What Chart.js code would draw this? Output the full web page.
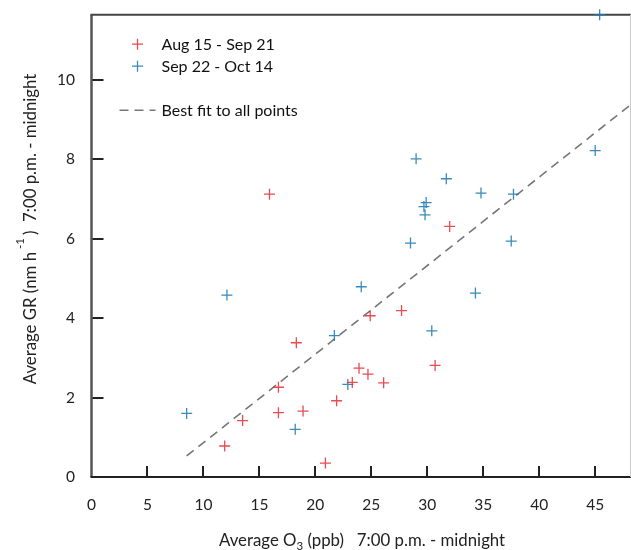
<!DOCTYPE html>
<html><head><meta charset="utf-8">
<script src="https://cdn.jsdelivr.net/npm/chart.js@4.4.0/dist/chart.umd.min.js"></script>
<style>html,body{margin:0;padding:0;background:#fff}</style>
</head><body>
<canvas id="c" width="631" height="550" style="width:631px;height:550px;display:block"></canvas>
<script>
// ---- data ----
const seriesLabels = ['Aug 15 - Sep 21', 'Sep 22 - Oct 14', 'Best fit to all points'];
const augO3 = [15.9, 32.0, 27.7, 24.9, 18.3, 23.9, 16.7, 23.3, 24.7, 26.1, 30.7, 21.9, 16.7, 18.9, 13.5, 11.9, 20.9];
const augGR = [7.12, 6.31, 4.19, 4.06, 3.38, 2.74, 2.26, 2.38, 2.59, 2.37, 2.81, 1.92, 1.62, 1.66, 1.42, 0.78, 0.35];
const sepO3 = [8.5, 12.1, 18.2, 21.7, 22.9, 24.1, 29.0, 31.7, 34.8, 37.7, 45.0, 29.9, 29.7, 29.8, 28.5, 37.5, 34.3, 30.4, 45.4];
const sepGR = [1.60, 4.58, 1.20, 3.56, 2.33, 4.79, 8.01, 7.51, 7.15, 7.12, 8.22, 6.91, 6.81, 6.60, 5.89, 5.94, 4.63, 3.68, 11.64];
const fitO3 = [8.5, 48.2];
const fitGR = [0.53, 9.38];
const xTickValues = [0, 5, 10, 15, 20, 25, 30, 35, 40, 45];
const yTickValues = [0, 2, 4, 6, 8, 10];
const xRange = [0, 48.2];
const yRange = [0, 11.64];
const xTitleParts = ['Average O', '3', ' (ppb)   7:00 p.m. - midnight'];
const yTitleParts = ['Average GR (nm h', '-1', ')  7:00 p.m. - midnight'];

const FONT = 'Lato, "Open Sans", sans-serif';
const RED = 'rgba(226,45,50,0.85)';
const BLUE = 'rgba(25,118,178,0.85)';
const pts = (xs, ys) => xs.map((x, i) => ({x, y: ys[i]}));
const noPad = s => { s.paddingTop = 0; s.paddingBottom = 0; s.paddingLeft = 0; s.paddingRight = 0; };

const framePlugin = {
  id: 'frame',
  beforeDatasetsDraw(chart) {
    const {ctx, chartArea: a, scales: {x, y}} = chart;
    ctx.save();
    ctx.lineCap = 'butt';
    // inward ticks
    ctx.strokeStyle = '#222'; ctx.lineWidth = 2;
    x.ticks.forEach(t => { if (t.value === 0) return; const px = Math.round(x.getPixelForValue(t.value)); ctx.beginPath(); ctx.moveTo(px, a.bottom); ctx.lineTo(px, a.bottom - 11); ctx.stroke(); });
    y.ticks.forEach(t => { if (t.value === 0) return; const py = Math.round(y.getPixelForValue(t.value)); ctx.beginPath(); ctx.moveTo(a.left, py); ctx.lineTo(a.left + 12, py); ctx.stroke(); });
    // frame
    ctx.strokeStyle = '#555'; ctx.lineWidth = 2.5;
    ctx.beginPath(); ctx.moveTo(a.left, a.top); ctx.lineTo(a.left, a.bottom); ctx.stroke();
    ctx.strokeStyle = '#222'; ctx.lineWidth = 2;
    ctx.beginPath(); ctx.moveTo(a.left - 1, a.bottom); ctx.lineTo(a.right, a.bottom); ctx.stroke();
    ctx.strokeStyle = '#444';
    ctx.beginPath(); ctx.moveTo(a.left - 1, a.top); ctx.lineTo(a.right, a.top); ctx.stroke();
    ctx.strokeStyle = '#ccc'; ctx.lineWidth = 1;
    ctx.beginPath(); ctx.moveTo(a.right - 0.5, a.top); ctx.lineTo(a.right - 0.5, a.bottom); ctx.stroke();
    ctx.restore();
  },
  afterDraw(chart) {
    const {ctx, chartArea: a} = chart;
    ctx.save();
    ctx.fillStyle = '#222';
    // x title with subscript
    const f = '16.8px ' + FONT, fs = '11.5px ' + FONT;
    ctx.font = f; const w0 = ctx.measureText(xTitleParts[0]).width;
    ctx.font = fs; const w1 = ctx.measureText(xTitleParts[1]).width;
    let cx = 219; const by = 546;
    ctx.textBaseline = 'alphabetic'; ctx.textAlign = 'left';
    ctx.font = f; ctx.fillText(xTitleParts[0], cx, by); cx += w0;
    ctx.font = fs; ctx.fillText(xTitleParts[1], cx, by + 4); cx += w1;
    ctx.font = f; ctx.fillText(xTitleParts[2], cx, by);
    // y title with superscript
    ctx.save();
    ctx.translate(36, 229); ctx.rotate(-Math.PI / 2);
    ctx.font = f; const v0 = ctx.measureText(yTitleParts[0]).width; const v2 = ctx.measureText(yTitleParts[2]).width;
    ctx.font = fs; const v1 = ctx.measureText(yTitleParts[1]).width + 6;
    let tx = -(v0 + v1 + v2) / 2;
    ctx.font = f; ctx.fillText(yTitleParts[0], tx, 0); tx += v0 + 3;
    ctx.font = fs; ctx.fillText(yTitleParts[1], tx, -12); tx += v1 - 3;
    ctx.font = f; ctx.fillText(yTitleParts[2], tx, 0);
    ctx.restore();
    // legend
    const ds = chart.data.datasets;
    const rows = [a.top + 29.5, a.top + 51.5, a.top + 95.5];
    ctx.font = '16px ' + FONT; ctx.textBaseline = 'middle';
    ds.forEach((d, i) => {
      const ly = rows[i];
      ctx.strokeStyle = d.borderColor;
      if (d.type === 'line') {
        ctx.lineWidth = 1.5; ctx.setLineDash([9, 6]);
        ctx.beginPath(); ctx.moveTo(a.left + 28, ly); ctx.lineTo(a.left + 64, ly); ctx.stroke();
        ctx.setLineDash([]);
      } else {
        ctx.lineWidth = 1.3;
        const cxp = a.left + 46, r = 5.5;
        ctx.beginPath(); ctx.moveTo(cxp - r, ly); ctx.lineTo(cxp + r, ly); ctx.moveTo(cxp, ly - r); ctx.lineTo(cxp, ly + r); ctx.stroke();
      }
      ctx.fillStyle = '#111';
      ctx.fillText(d.label, a.left + 70, ly + 1);
    });
    ctx.restore();
  }
};

new Chart(document.getElementById('c'), {
  type: 'scatter',
  data: {
    datasets: [
      {label: seriesLabels[0], data: pts(augO3, augGR), pointStyle: 'cross', radius: 5.5, borderColor: RED, borderWidth: 1.3, clip: false},
      {label: seriesLabels[1], data: pts(sepO3, sepGR), pointStyle: 'cross', radius: 5.5, borderColor: BLUE, borderWidth: 1.3, clip: false},
      {type: 'line', label: seriesLabels[2], data: pts(fitO3, fitGR), borderColor: '#777', borderWidth: 1.6, borderDash: [9, 6], pointRadius: 0, fill: false}
    ]
  },
  options: {
    responsive: false, animation: false,
    layout: {autoPadding: false, padding: {top: 14.7, right: 0, left: 0, bottom: 0}},
    plugins: {legend: {display: false}, tooltip: {enabled: false}},
    scales: {
      x: {type: 'linear', min: xRange[0], max: xRange[1],
          afterBuildTicks: s => { s.ticks = xTickValues.map(v => ({value: v})); },
          afterFit: s => { s.height = 73; noPad(s); },
          grid: {display: false}, border: {display: false},
          ticks: {padding: 11, color: '#222', font: {family: FONT, size: 15.5}, maxRotation: 0, autoSkip: false}},
      y: {type: 'linear', min: yRange[0], max: yRange[1],
          afterBuildTicks: s => { s.ticks = yTickValues.map(v => ({value: v})); },
          afterFit: s => { s.width = 91.5; noPad(s); },
          grid: {display: false}, border: {display: false},
          ticks: {padding: 8.5, color: '#222', font: {family: FONT, size: 15.5}}}
    }
  },
  plugins: [framePlugin]
});
</script>
</body></html>
